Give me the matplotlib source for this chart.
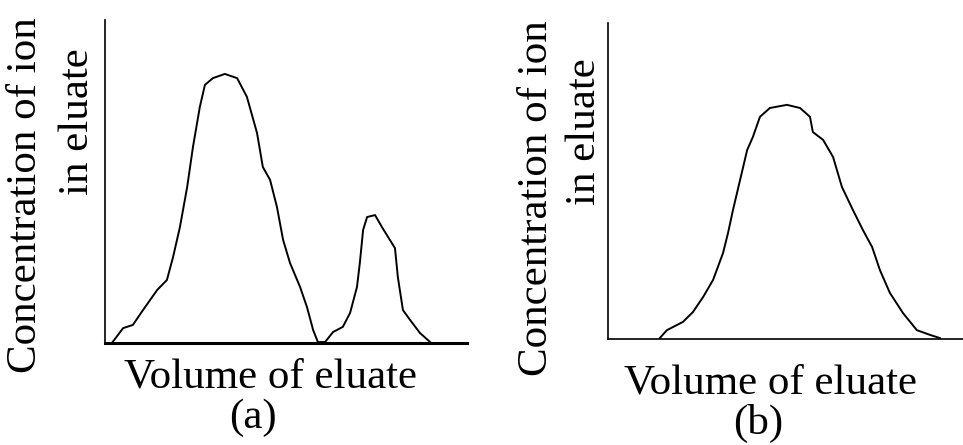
import numpy as np
import matplotlib
matplotlib.use('Agg')
import matplotlib.pyplot as plt

# peak profiles (volume units 0-100, concentration 0-100)
vol_a = [1.9, 5.0, 7.7, 10.5, 14.4, 17.1, 18.8, 20.7, 22.7, 24.3, 26.2, 27.6, 29.8, 33.1,
         36.5, 39.2, 42.0, 43.6, 45.6, 47.5, 49.2, 51.1, 53.9, 55.8, 57.5, 58.8, 60.8,
         63.0, 65.7, 67.7, 69.6, 70.4, 71.3, 72.4, 74.6, 76.5, 78.7, 80.1, 80.9, 82.3,
         84.3, 87.0, 89.8]
conc_a = [0, 4.6, 5.6, 10.2, 16.4, 19.5, 26.6, 35.9, 48.3, 60.7, 73.1, 79.9, 82.0, 83.3,
          82.0, 76.2, 65.0, 54.5, 50.5, 42.1, 31.9, 24.8, 17.3, 11.1, 4.0, 0.3, 0.3,
          3.4, 5.0, 9.3, 17.3, 24.8, 35.0, 39.0, 39.6, 35.9, 31.9, 29.4, 20.4, 10.2,
          7.1, 3.1, 0.3]

vol_b = [14.6, 16.6, 21.1, 23.9, 26.8, 29.6, 32.4, 33.8, 35.2, 37.2, 39.2, 40.8, 42.8,
         45.6, 50.4, 54.1, 56.9, 57.7, 60.6, 63.4, 65.9, 69.0, 71.8, 74.4, 76.6, 79.4,
         83.1, 87.0, 90.7, 93.5]
conc_b = [0.3, 2.8, 5.4, 8.5, 13.3, 18.7, 27.2, 33.5, 40.8, 50.3, 59.8, 63.9, 70.3,
          73.1, 74.1, 73.1, 70.3, 65.5, 63.0, 57.6, 48.1, 40.8, 34.5, 29.1, 21.8, 14.6,
          8.2, 2.8, 1.3, 0.3]

ylabel_1 = 'Concentration of ion'
ylabel_2 = 'in eluate'
xlabel = 'Volume of eluate'

plt.rcParams['font.family'] = ['Liberation Serif', 'DejaVu Serif']

fig = plt.figure(figsize=(9.63, 4.45), dpi=100)
ax1 = fig.add_axes([105/963, 1-343/445, 362/963, 323/445])
ax2 = fig.add_axes([608/963, 1-339/445, 355/963, 316/445])

for ax, v, c in [(ax1, vol_a, conc_a), (ax2, vol_b, conc_b)]:
    ax.plot(v, c, color='black', lw=1.4)
    ax.set_xlim(0, 100)
    ax.set_ylim(0, 100)
    ax.set_xticks([])
    ax.set_yticks([])
    ax.spines['top'].set_visible(False)
    ax.spines['right'].set_visible(False)
    ax.spines['left'].set_linewidth(1.2)
    ax.spines['bottom'].set_linewidth(1.2)
ax1.spines['bottom'].set_linewidth(2.2)

fs = 31
# left panel labels
fig.text(26/963, 1-195/445, ylabel_1, rotation=90, ha='center', va='center', fontsize=fs)
fig.text(78/963, 1-122/445, ylabel_2, rotation=90, ha='center', va='center', fontsize=fs)
fig.text(270/963, 1-387/445, xlabel, ha='center', va='baseline', fontsize=fs)
fig.text(253/963, 1-418/445, '(a)', ha='center', va='center', fontsize=fs)

# right panel labels
fig.text(537/963, 1-198/445, ylabel_1, rotation=90, ha='center', va='center', fontsize=fs)
fig.text(585/963, 1-132/445, ylabel_2, rotation=90, ha='center', va='center', fontsize=fs)
fig.text(770/963, 1-393/445, xlabel, ha='center', va='baseline', fontsize=fs)
fig.text(758/963, 1-423/445, '(b)', ha='center', va='center', fontsize=fs)

plt.savefig('out.png', dpi=100)
